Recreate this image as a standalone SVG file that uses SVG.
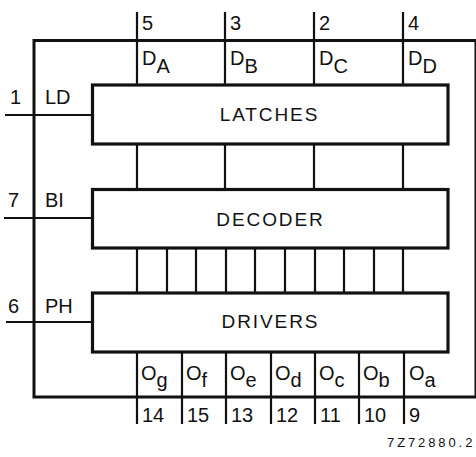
<svg xmlns="http://www.w3.org/2000/svg" width="476" height="457" viewBox="0 0 476 457">
<style>
text{font-family:"Liberation Sans",Arial,Helvetica,sans-serif;fill:#111;}
.lbl{font-size:20px;}
.blk{font-size:19px;letter-spacing:1.9px;text-anchor:middle;}
.id{font-size:13px;letter-spacing:2.9px;}
.frame{fill:none;stroke:#111;stroke-width:3;}
.box{fill:#fff;stroke:#111;stroke-width:3.2;}
.ln{stroke:#111;stroke-width:2.2;fill:none;}
</style>
<rect width="476" height="457" fill="#fff"/>
<g id="frame">
<path class="frame" d="M477,40.5 H34 V397 H477"/>
<line class="frame" x1="476" y1="40.5" x2="476" y2="397" stroke-width="2.5"/>
</g>
<g id="connectors">
<path class="ln" d="M137,12 V85 M225,12 V85 M314,12 V85 M403,12 V85"/>
<path class="ln" d="M137,144 V190 M225,144 V190 M314,144 V190 M403,144 V190"/>
<path class="ln" d="M137,248 V293 M167,248 V293 M196,248 V293 M226,248 V293 M255,248 V293 M285,248 V293 M315,248 V293 M344,248 V293 M374,248 V293 M403,248 V293"/>
<path class="ln" d="M137,352 V424 M182,352 V424 M226,352 V424 M271,352 V424 M315,352 V424 M359,352 V424 M404,352 V424"/>
<path class="ln" d="M5,115 H92 M4,218 H92 M6,322 H92"/>
</g>
<g id="latches">
<rect class="box" x="92.5" y="85" width="355.5" height="59"/>
<text class="blk" x="269.5" y="121">LATCHES</text>
</g>
<g id="decoder">
<rect class="box" x="92.5" y="189.5" width="355.5" height="58.5"/>
<text class="blk" x="270.5" y="226">DECODER</text>
</g>
<g id="drivers">
<rect class="box" x="92.5" y="293" width="355.5" height="59"/>
<text class="blk" x="270.5" y="328">DRIVERS</text>
</g>
<g id="inputs-top">
<text class="lbl" x="142" y="30">5</text>
<text class="lbl" x="230" y="30">3</text>
<text class="lbl" x="319" y="30">2</text>
<text class="lbl" x="408" y="30">4</text>
<text class="lbl" x="142" y="65">D<tspan dy="8">A</tspan></text>
<text class="lbl" x="230" y="65">D<tspan dy="8">B</tspan></text>
<text class="lbl" x="319" y="65">D<tspan dy="8">C</tspan></text>
<text class="lbl" x="408" y="65">D<tspan dy="8">D</tspan></text>
</g>
<g id="inputs-left">
<text class="lbl" x="10" y="104">1</text>
<text class="lbl" x="45" y="104">LD</text>
<text class="lbl" x="8" y="207">7</text>
<text class="lbl" x="45" y="207">BI</text>
<text class="lbl" x="8" y="313">6</text>
<text class="lbl" x="45" y="313">PH</text>
</g>
<g id="outputs">
<text class="lbl" x="141" y="380">O<tspan dy="7">g</tspan></text>
<text class="lbl" x="186" y="380">O<tspan dy="7">f</tspan></text>
<text class="lbl" x="230" y="380">O<tspan dy="7">e</tspan></text>
<text class="lbl" x="275" y="380">O<tspan dy="7">d</tspan></text>
<text class="lbl" x="319" y="380">O<tspan dy="7">c</tspan></text>
<text class="lbl" x="363" y="380">O<tspan dy="7">b</tspan></text>
<text class="lbl" x="409" y="380">O<tspan dy="7">a</tspan></text>
<text class="lbl" x="142" y="422">14</text>
<text class="lbl" x="187" y="422">15</text>
<text class="lbl" x="231" y="422">13</text>
<text class="lbl" x="276" y="422">12</text>
<text class="lbl" x="320" y="422">11</text>
<text class="lbl" x="364" y="422">10</text>
<text class="lbl" x="409" y="422">9</text>
</g>
<text class="id" x="387" y="447">7Z72880.2</text>
</svg>
